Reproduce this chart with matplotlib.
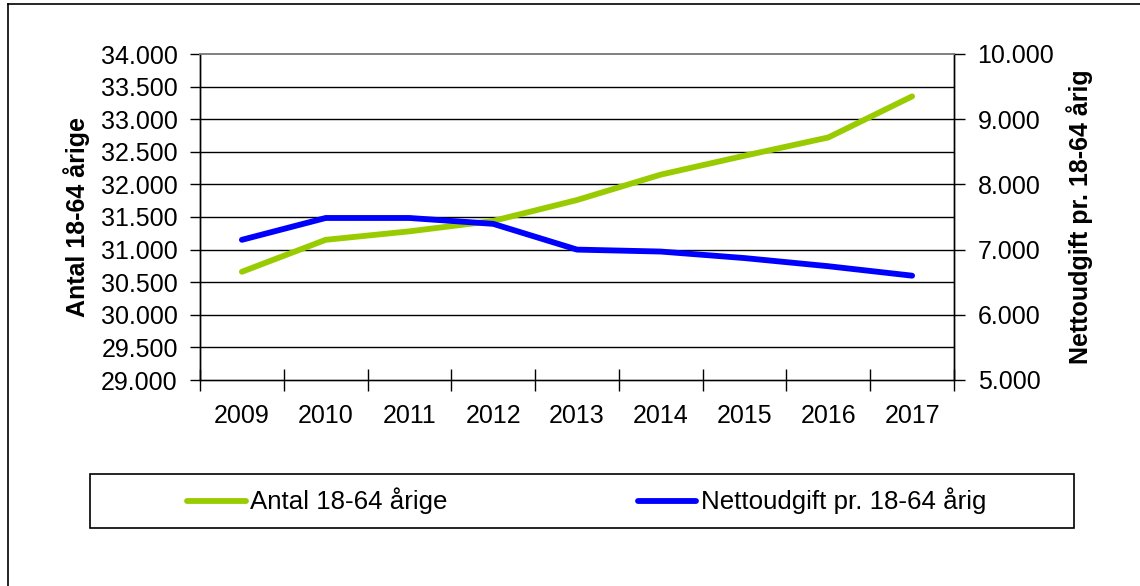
import matplotlib
matplotlib.use("Agg")
import matplotlib.pyplot as plt
from matplotlib.lines import Line2D
from matplotlib.patches import Rectangle
from matplotlib.ticker import FuncFormatter, FixedLocator

plt.rcParams['font.family'] = ['Liberation Sans', 'DejaVu Sans']

years = ["2009", "2010", "2011", "2012", "2013", "2014", "2015", "2016", "2017"]
antal = [30660, 31150, 31280, 31440, 31760, 32150, 32440, 32720, 33350]
netto = [7150, 7485, 7485, 7395, 7000, 6970, 6870, 6745, 6600]
series_names = ["Antal 18-64 årige", "Nettoudgift pr. 18-64 årig"]
left_label = "Antal 18-64 årige"
right_label = "Nettoudgift pr. 18-64 årig"
left_ticks = [29000, 29500, 30000, 30500, 31000, 31500, 32000, 32500, 33000, 33500, 34000]
right_ticks = [5000, 6000, 7000, 8000, 9000, 10000]

W, H = 1140, 586
fig = plt.figure(figsize=(W / 100, H / 100), dpi=100)
fig.patch.set_facecolor("white")

def fx(px):
    return px / W

def fy(py):
    return 1 - py / H

L, R, T, B = 200, 954, 54, 380
ax = fig.add_axes([fx(L), fy(B), (R - L) / W, (B - T) / H])
ax2 = ax.twinx()

GREEN = "#99CC00"
BLUE = "#0000FF"

def dk(v, pos=None):
    return f"{int(round(v)):,}".replace(",", ".")

x = list(range(len(years)))
ax.set_xlim(-0.5, len(years) - 0.5)
ax.set_ylim(left_ticks[0], left_ticks[-1])
ax2.set_ylim(right_ticks[0], right_ticks[-1])

for t in left_ticks[1:-1]:
    ax.axhline(t, color="black", lw=1.0, zorder=1)

ax.plot(x, antal, color=GREEN, lw=4.2, solid_capstyle="round", solid_joinstyle="round", zorder=3)
ax2.plot(x, netto, color=BLUE, lw=4.2, solid_capstyle="round", solid_joinstyle="round", zorder=3)

ax.yaxis.set_major_locator(FixedLocator(left_ticks))
ax.yaxis.set_major_formatter(FuncFormatter(dk))
ax2.yaxis.set_major_locator(FixedLocator(right_ticks))
ax2.yaxis.set_major_formatter(FuncFormatter(dk))

ax.xaxis.set_major_locator(FixedLocator([i - 0.5 for i in range(len(years) + 1)]))
ax.xaxis.set_major_formatter(FuncFormatter(lambda v, p: ""))
ax.xaxis.set_minor_locator(FixedLocator(x))
ax.set_xticklabels(years, minor=True)
ax.tick_params(axis="x", which="major", direction="inout", length=16, width=1, color="black")
ax.tick_params(axis="x", which="minor", length=0, pad=17, labelsize=18)
ax.tick_params(axis="y", direction="out", length=7, width=1, pad=9, labelsize=18)
ax2.tick_params(axis="y", direction="out", length=8, width=1, pad=9, labelsize=18)

for a in (ax, ax2):
    for s in ("left", "right", "bottom"):
        a.spines[s].set_color("black")
        a.spines[s].set_linewidth(1.0)
    a.spines["top"].set_color("#808080")
    a.spines["top"].set_linewidth(1.2)
ax.spines["bottom"].set_color("#606060")

fig.text(fx(77), fy(217), left_label, rotation=90, ha="center", va="center",
         fontsize=18, fontweight="bold")
fig.text(fx(1080), fy(217), right_label, rotation=90, ha="center", va="center",
         fontsize=18, fontweight="bold")

# outer border (left and top visible)
fig.add_artist(Line2D([fx(8), fx(8)], [fy(4), 0], transform=fig.transFigure, color="black", lw=1.2))
fig.add_artist(Line2D([fx(8), 1], [fy(4), fy(4)], transform=fig.transFigure, color="black", lw=1.2))

# legend box
fig.add_artist(Rectangle((fx(90), fy(528)), fx(1074) - fx(90), fy(474) - fy(528),
                         transform=fig.transFigure, fill=False, edgecolor="black", lw=1.2))
ly = fy(501)
for (x0, x1, tx), col, name in zip([(187, 246, 250), (638, 696, 701)], [GREEN, BLUE], series_names):
    fig.add_artist(Line2D([fx(x0), fx(x1)], [ly, ly], transform=fig.transFigure,
                          color=col, lw=4.2, solid_capstyle="round"))
    fig.text(fx(tx), ly, name, ha="left", va="center", fontsize=18.6)

fig.savefig("out.png", dpi=100, facecolor="white")
